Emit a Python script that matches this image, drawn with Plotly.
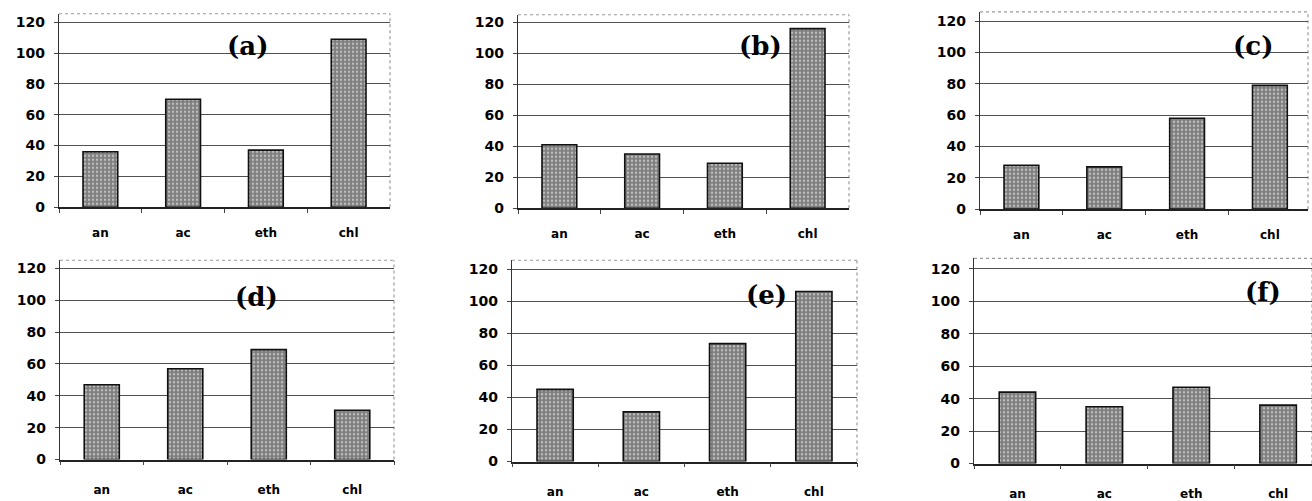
import plotly.graph_objects as go

categories = ["an", "ac", "eth", "chl"]
panel_labels = ["(a)", "(b)", "(c)", "(d)", "(e)", "(f)"]
values_a = [36, 70, 37, 109]
values_b = [41, 35, 29, 116]
values_c = [28, 27, 58, 79]
values_d = [47, 57, 69, 31]
values_e = [45, 31, 73.5, 106]
values_f = [44, 35, 47, 36]
y_ticks = [0, 20, 40, 60, 80, 100, 120]

W, H = 1312, 501

# pixel geometry of each panel: (left, right, top, bottom), y max, x max, label position
panels = [
    dict(vals=values_a, px=(59, 390, 14, 211), ymax=125.5, xmax=3.5, lab=(247, 47), so=14),
    dict(vals=values_b, px=(518, 849, 15, 212), ymax=125.0, xmax=3.5, lab=(760, 47), so=14),
    dict(vals=values_c, px=(980, 1308, 12, 213), ymax=126.0, xmax=3.46, lab=(1253, 47), so=14),
    dict(vals=values_d, px=(60, 394, 265, 468), ymax=125.1, xmax=3.5, lab=(256, 302), so=18),
    dict(vals=values_e, px=(512, 857, 265, 470), ymax=125.5, xmax=3.5, lab=(766, 300), so=18),
    dict(vals=values_f, px=(974, 1312, 263, 472), ymax=126.5, xmax=3.39, lab=(1263, 297), so=18),
]

fig = go.Figure()
layout = dict(
    width=W, height=H, margin=dict(l=0, r=0, t=0, b=0),
    paper_bgcolor="white", plot_bgcolor="white", showlegend=False,
    font=dict(family="DejaVu Sans", color="black"),
)
shapes = []
annotations = []
for i, p in enumerate(panels):
    n = "" if i == 0 else str(i + 1)
    l, r, t, b = p["px"]
    fig.add_trace(go.Bar(
        x=categories, y=p["vals"], width=0.42,
        xaxis="x" + n, yaxis="y" + n,
        marker=dict(
            color="#808080",
            line=dict(color="#111111", width=1.6),
            pattern=dict(shape=".", fgcolor="#bdbdbd", bgcolor="#7e7e7e",
                         size=4, solidity=0.3, fillmode="replace"),
        ),
    ))
    layout["xaxis" + n] = dict(
        domain=[l / W, r / W], anchor="y" + n,
        type="category", range=[-0.5, p["xmax"]],
        showline=True, linecolor="#222", linewidth=1.5,
        ticks="outside", tickson="boundaries", ticklen=4, tickcolor="#444",
        ticklabelstandoff=p["so"],
        tickfont=dict(family="DejaVu Sans", size=12, color="black", weight="bold"),
        showgrid=False, fixedrange=True,
    )
    layout["yaxis" + n] = dict(
        domain=[1 - b / H, 1 - t / H], anchor="x" + n,
        range=[0, p["ymax"]], tickvals=y_ticks,
        showline=True, linecolor="#333", linewidth=1.2,
        ticks="outside", ticklen=4, tickcolor="#444",
        ticklabelstandoff=6,
        tickfont=dict(family="DejaVu Sans", size=14, color="black", weight="bold"),
        showgrid=True, gridcolor="#505050", gridwidth=1,
        zeroline=False, fixedrange=True,
    )
    # dotted frame on top and right edges only
    shapes.append(dict(
        type="line", xref="x" + n + " domain", yref="y" + n + " domain",
        x0=0, x1=1, y0=1, y1=1, line=dict(color="#9a9a9a", width=1.2, dash="dot"),
        layer="below",
    ))
    shapes.append(dict(
        type="line", xref="x" + n + " domain", yref="y" + n + " domain",
        x0=1, x1=1, y0=0, y1=1, line=dict(color="#9a9a9a", width=1.2, dash="dot"),
        layer="below",
    ))
    lx, ly = p["lab"]
    annotations.append(dict(
        text="<b>" + panel_labels[i] + "</b>", xref="paper", yref="paper",
        x=lx / W, y=1 - ly / H, xanchor="center", yanchor="middle",
        showarrow=False, font=dict(family="DejaVu Serif", size=26, color="black"),
    ))
layout["shapes"] = shapes
layout["annotations"] = annotations
fig.update_layout(**layout)
fig.write_html("out.html")
